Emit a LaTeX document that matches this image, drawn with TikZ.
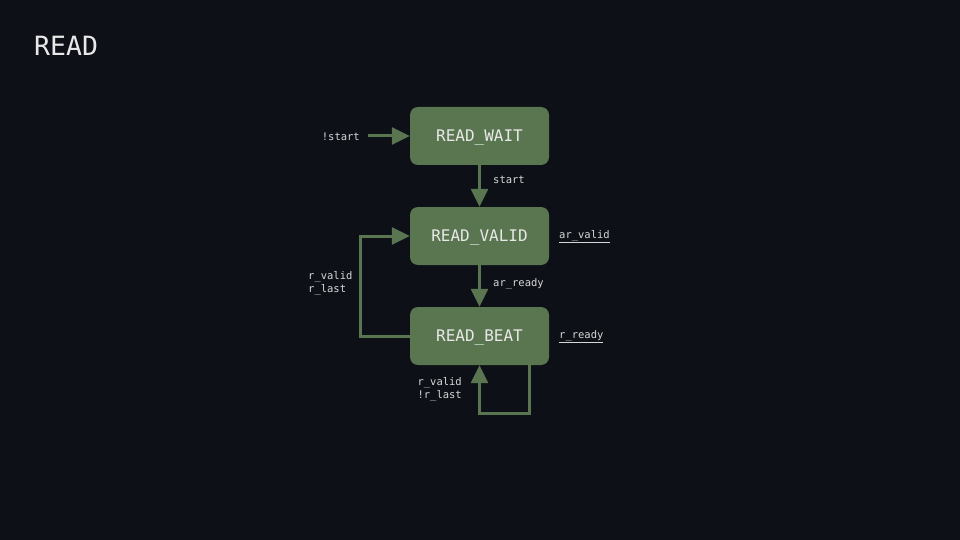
\documentclass[tikz,border=0pt]{standalone}
\usepackage{fontspec}
\setmonofont{DejaVu Sans Mono}
\usetikzlibrary{arrows.meta}
\definecolor{bg}{HTML}{0D1017}
\definecolor{boxg}{HTML}{5A7650}
\definecolor{txt}{HTML}{E8E8E8}
\definecolor{lbl}{HTML}{D8D8D8}
\tikzset{
  state/.style={draw=none, fill=boxg, rounded corners=8pt, minimum width=139pt, minimum height=58pt, inner sep=0pt, text height=11.5pt, text depth=0pt, text=txt, font=\ttfamily\fontsize{16}{18}\selectfont},
  lab/.style={text=lbl, font=\ttfamily\fontsize{10.5}{13}\selectfont, inner sep=0pt, align=left},
  edge/.style={draw=boxg, line width=3pt, -{Triangle[length=18pt,width=17pt]}},
}
\begin{document}
\begin{tikzpicture}[x=1pt,y=-1pt]
\fill[bg] (0,0) rectangle (960,540);
\useasboundingbox (0,0) rectangle (960,540);
\node[anchor=west, text=txt, font=\ttfamily\fontsize{26.5}{30}\selectfont, inner sep=0pt] (title) at (34,46) {READ};
\node[state] (wait) at (479.5,136) {READ\_WAIT};
\node[state] (valid) at (479.5,236) {READ\_VALID};
\node[state] (beat) at (479.5,336) {READ\_BEAT};
\coordinate (ins) at (368,136);
\node[lab, anchor=east] (lstart) at (360,137) {!start};
\draw[edge] (ins) -- (wait.west);
\draw[edge] (wait.south) -- (valid.north);
\node[lab, anchor=west] (lst) at (493,180) {start};
\draw[edge] (valid.south) -- (beat.north);
\node[lab, anchor=west] (lar) at (493,284) {ar\_ready};
\draw[edge] (beat.west) -- (360,336) -- (360,236) -- (valid.west);
\node[lab, anchor=west] (lrl) at (308,283.5) {r\_valid\\r\_last};
\coordinate (lp) at (529,413);
\draw[edge] (beat.south -| lp) -- (lp) -- (lp -| beat.south) -- (beat.south);
\node[lab, anchor=east] (lrn) at (462,389.5) {r\_valid\\!r\_last};
\node[lab, anchor=west] (lav) at (559,237) {\underline{ar\_valid}};
\node[lab, anchor=west] (lrr) at (559,337) {\underline{r\_ready}};
\end{tikzpicture}
\end{document}
